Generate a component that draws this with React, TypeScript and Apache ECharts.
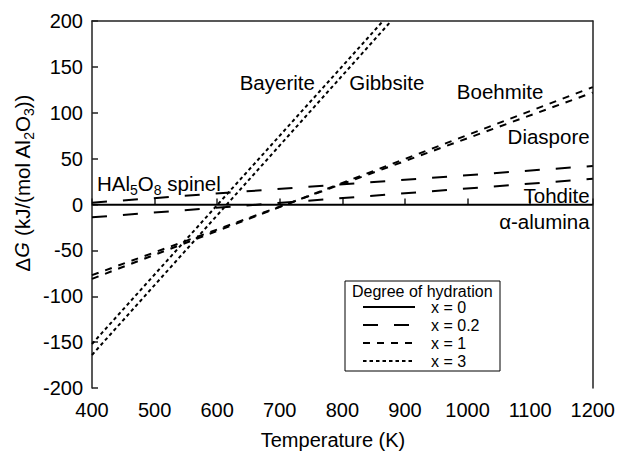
import React, { useEffect, useRef } from "react";
import * as echarts from "echarts";

// Axis ranges and ticks
const tempMin = 400;
const tempMax = 1200;
const tempStep = 100;
const gMin = -200;
const gMax = 200;
const gStep = 50;

// Free-energy lines [T (K), ΔG (kJ/mol Al2O3)]
const alumina = [[400, 0], [1200, 0]];
const spinel = [[400, 2], [1200, 42]];
const tohdite = [[400, -14], [1200, 28]];
const boehmite = [[400, -81], [1200, 128]];
const diaspore = [[400, -77], [1200, 122]];
const bayerite = [[400, -152], [865, 200]];
const gibbsite = [[400, -164], [878, 200]];

// Legend entries (degree of hydration)
const hydration = ["x = 0", "x = 0.2", "x = 1", "x = 3"];

// Phase labels: rich text, anchor T, anchor ΔG, alignment
const phaseLabels: [string, number, number, string][] = [
  ["{n|Bayerite}", 696, 133, "center"],
  ["{n|Gibbsite}", 871, 133, "center"],
  ["{n|Boehmite}", 1052, 123, "center"],
  ["{n|Diaspore}", 1195, 74, "right"],
  ["{n|Tohdite}", 1195, 10, "right"],
  ["{n|α-alumina}", 1195, -19, "right"],
  ["{n|HAl}{s|5}{n|O}{s|8}{n| spinel}", 408, 23, "left"],
];

const FONT = "'Liberation Sans', Arial, Helvetica, sans-serif";

const richStyles = {
  n: { fontSize: 20.5, fontFamily: FONT, color: "#000", lineHeight: 28, verticalAlign: "middle" },
  i: { fontSize: 20, fontFamily: FONT, color: "#000", lineHeight: 28, verticalAlign: "middle", fontStyle: "italic" },
  s: { fontSize: 14, fontFamily: FONT, color: "#000", lineHeight: 14, verticalAlign: "bottom" },
};

export default function App() {
  const ref = useRef<HTMLDivElement>(null);
  useEffect(() => {
    document.body.style.margin = "0";
    if (!ref.current) return;
    const chart = echarts.init(ref.current, undefined, { renderer: "svg" });
    const axisColor = "#222";
    const lineSeries = (name: string, data: number[][], dash: any, width = 2) => ({
      type: "line",
      name,
      data,
      symbol: "none",
      showSymbol: false,
      silent: true,
      lineStyle: { color: "#000", width, type: dash },
      itemStyle: { color: "#000" },
      z: 3,
    });
    chart.setOption({
      animation: false,
      backgroundColor: "#fff",
      grid: { left: 92, right: 22, top: 21, bottom: 68, containLabel: false },
      xAxis: [
        {
          type: "value",
          min: tempMin,
          max: tempMax,
          interval: tempStep,
          position: "bottom",
          axisLine: { show: true, lineStyle: { color: axisColor, width: 1.5 } },
          axisTick: { show: true, inside: true, length: 6, lineStyle: { color: axisColor, width: 1.5 } },
          axisLabel: { fontSize: 20, fontFamily: FONT, color: "#000", margin: 12, formatter: (v: number) => String(v) },
          splitLine: { show: false },
        },
        {
          type: "value",
          min: tempMin,
          max: tempMax,
          position: "top",
          axisLine: { show: true, onZero: false, lineStyle: { color: axisColor, width: 1.5 } },
          axisTick: { show: false },
          axisLabel: { show: false },
          splitLine: { show: false },
        },
      ],
      yAxis: [
        {
          type: "value",
          min: gMin,
          max: gMax,
          interval: gStep,
          position: "left",
          axisLine: { show: true, onZero: false, lineStyle: { color: axisColor, width: 1.5 } },
          axisTick: { show: true, inside: true, length: 6, lineStyle: { color: axisColor, width: 1.5 } },
          axisLabel: { fontSize: 20, fontFamily: FONT, color: "#000", margin: 9, formatter: (v: number) => String(v) },
          splitLine: { show: false },
        },
        {
          type: "value",
          min: gMin,
          max: gMax,
          position: "right",
          axisLine: { show: true, onZero: false, lineStyle: { color: axisColor, width: 1.5 } },
          axisTick: { show: false },
          axisLabel: { show: false },
          splitLine: { show: false },
        },
      ],
      legend: {
        data: hydration,
        orient: "vertical",
        left: 362,
        top: 299,
        padding: 0,
        itemWidth: 52,
        itemHeight: 14,
        itemGap: 2,
        z: 20,
        selectedMode: false,
        itemStyle: { opacity: 0, borderWidth: 0 },
        textStyle: { fontSize: 16, fontFamily: FONT, color: "#000", lineHeight: 16, padding: [0, 0, 0, 11] },
      },
      graphic: [
        {
          type: "rect",
          shape: { x: 345, y: 281, width: 155, height: 90 },
          style: { fill: "#fff", stroke: "#000", lineWidth: 1 },
          z: 5,
          silent: true,
        },
        {
          type: "text",
          x: 352,
          y: 291,
          z: 6,
          style: { text: "Degree of hydration", font: `16px ${FONT}`, fill: "#000", verticalAlign: "middle" },
        },
        {
          type: "text",
          x: 22,
          y: 183,
          rotation: Math.PI / 2,
          style: {
            text: "{n|Δ}{i|G}{n| (kJ/(mol Al}{s|2}{n|O}{s|3}{n|))}",
            rich: richStyles,
            align: "center",
            verticalAlign: "middle",
          },
        },
        {
          type: "text",
          x: 333,
          y: 440,
          style: {
            text: "Temperature (K)",
            font: `20px ${FONT}`,
            fill: "#000",
            align: "center",
            verticalAlign: "middle",
          },
        },
      ],
      series: [
        lineSeries("x = 0", alumina, "solid", 1.5),
        lineSeries("x = 0.2", spinel, [15, 16]),
        lineSeries("x = 0.2", tohdite, [15, 16]),
        lineSeries("x = 1", boehmite, [7, 7]),
        lineSeries("x = 1", diaspore, [7, 7]),
        lineSeries("x = 3", bayerite, [3.5, 3]),
        lineSeries("x = 3", gibbsite, [3.5, 3]),
        {
          type: "scatter",
          name: "phase labels",
          symbolSize: 0,
          silent: true,
          z: 4,
          itemStyle: { opacity: 1 },
          data: phaseLabels.map(([text, t, g, align]) => ({
            value: [t, g],
            label: {
              show: true,
              position: "inside",
              formatter: text,
              align,
              verticalAlign: "middle",
              color: "#000",
              opacity: 1,
              textBorderWidth: 0,
              rich: richStyles,
            },
          })),
        },
      ],
    });
    return () => chart.dispose();
  }, []);
  return <div ref={ref} style={{ width: 618, height: 456 }} />;
}
